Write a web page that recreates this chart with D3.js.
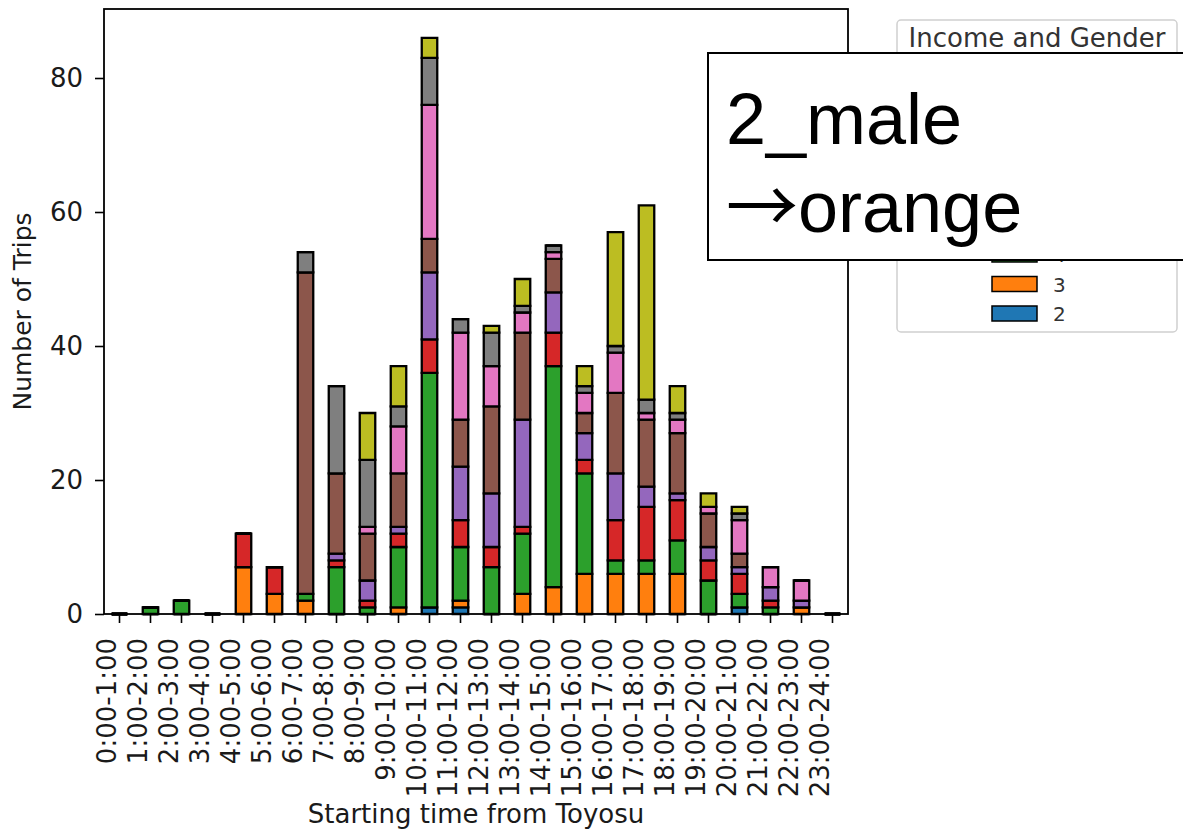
<!DOCTYPE html>
<html>
<head>
<meta charset="utf-8">
<script src="https://cdn.jsdelivr.net/npm/d3@7"></script>
<style>
  body { margin: 0; background: #fff; }
  svg { display: block; }
</style>
</head>
<body>
<div id="chart"></div>
<script>
// time slots on the x axis
var slots = ['0:00-1:00', '1:00-2:00', '2:00-3:00', '3:00-4:00', '4:00-5:00', '5:00-6:00',
  '6:00-7:00', '7:00-8:00', '8:00-9:00', '9:00-10:00', '10:00-11:00', '11:00-12:00',
  '12:00-13:00', '13:00-14:00', '14:00-15:00', '15:00-16:00', '16:00-17:00', '17:00-18:00',
  '18:00-19:00', '19:00-20:00', '20:00-21:00', '21:00-22:00', '22:00-23:00', '23:00-24:00']

// trips per income/gender group (bottom of the stack first)
var g2  = [0, 0, 0, 0, 0, 0, 0, 0, 0, 0, 1, 1, 0, 0, 0, 0, 0, 0, 0, 0, 1, 0, 0, 0]
var g3  = [0, 0, 0, 0, 7, 3, 2, 0, 0, 1, 0, 1, 0, 3, 4, 6, 6, 6, 6, 0, 0, 0, 1, 0]
var g4  = [0, 1, 2, 0, 0, 0, 1, 7, 1, 9, 35, 8, 7, 9, 33, 15, 2, 2, 5, 5, 2, 1, 0, 0]
var g5  = [0, 0, 0, 0, 5, 4, 0, 1, 1, 2, 5, 4, 3, 1, 5, 2, 6, 8, 6, 3, 3, 1, 0, 0]
var g6  = [0, 0, 0, 0, 0, 0, 0, 1, 3, 1, 10, 8, 8, 16, 6, 4, 7, 3, 1, 2, 1, 2, 1, 0]
var g7  = [0, 0, 0, 0, 0, 0, 48, 12, 7, 8, 5, 7, 13, 13, 5, 3, 12, 10, 9, 5, 2, 0, 0, 0]
var g8  = [0, 0, 0, 0, 0, 0, 0, 0, 1, 7, 20, 13, 6, 3, 1, 3, 6, 1, 2, 1, 5, 3, 3, 0]
var g9  = [0, 0, 0, 0, 0, 0, 3, 13, 10, 3, 7, 2, 5, 1, 1, 1, 1, 2, 1, 0, 1, 0, 0, 0]
var g10 = [0, 0, 0, 0, 0, 0, 0, 0, 7, 6, 3, 0, 1, 4, 0, 3, 17, 29, 4, 2, 1, 0, 0, 0]

var groupNames = ['2', '3', '4', '5', '6', '7', '8', '9', '10']
var groupValues = [g2, g3, g4, g5, g6, g7, g8, g9, g10]
var colours = ['#1f77b4', '#ff7f0e', '#2ca02c', '#d62728', '#9467bd',
  '#8c564b', '#e377c2', '#7f7f7f', '#bcbd22']

var yTicks = [0, 20, 40, 60, 80]

var width_all = 1183, height_all = 831
var margin = { top: 9, left: 104 }
var width = 744, height = 605

var svg = d3.select('#chart').append('svg')
  .attr('width', width_all)
  .attr('height', height_all)
  .style('font-family', 'DejaVu Sans, sans-serif')

var g = svg.append('g')
  .attr('transform', 'translate(' + margin.left + ',' + margin.top + ')')

// rows for d3.stack
var table = slots.map(function (s, i) {
  var row = { slot: s }
  groupNames.forEach(function (k, j) { row[k] = groupValues[j][i] })
  return row
})
var stacked = d3.stack().keys(groupNames)(table)

var x = d3.scaleBand().domain(slots).range([0, width])
  .paddingInner(0.5).paddingOuter(0.25)
var y = d3.scaleLinear().domain([0, 90.3]).range([height, 0])
var col = d3.scaleOrdinal().domain(groupNames).range(colours)

// bars: drawn as paths so zero-height pieces still show as a line
stacked.forEach(function (layer) {
  g.append('g')
    .selectAll('path')
    .data(layer)
    .enter()
    .append('path')
    .attr('d', function (d) {
      var x0 = x(d.data.slot), w = x.bandwidth()
      var yTop = y(d[1]), yBot = y(d[0])
      return 'M' + x0 + ',' + yBot + 'H' + (x0 + w) + 'V' + yTop + 'H' + x0 + 'Z'
    })
    .attr('fill', col(layer.key))
    .attr('stroke', '#000')
    .attr('stroke-width', 2.3)
})

// frame
g.append('rect')
  .attr('width', width).attr('height', height)
  .attr('fill', 'none').attr('stroke', '#000').attr('stroke-width', 1.8)

// y axis
var yAxis = g.append('g')
  .call(d3.axisLeft(y).tickValues(yTicks).tickSize(9).tickPadding(12))
yAxis.select('.domain').remove()
yAxis.selectAll('line').attr('stroke', '#000').attr('stroke-width', 1.6)
yAxis.selectAll('text')
  .attr('fill', '#1a1a1a')
  .style('font-size', '26px')
  .style('font-family', 'DejaVu Sans, sans-serif')

// x axis
var xAxis = g.append('g')
  .attr('transform', 'translate(0,' + height + ')')
  .call(d3.axisBottom(x).tickSize(9))
xAxis.select('.domain').remove()
xAxis.selectAll('line').attr('stroke', '#000').attr('stroke-width', 1.6)
xAxis.selectAll('text')
  .attr('fill', '#1a1a1a')
  .style('font-size', '26px')
  .style('font-family', 'DejaVu Sans, sans-serif')
  .attr('x', 0)
  .attr('y', 0)
  .attr('dy', 0)
  .attr('text-anchor', 'end')
  .attr('transform', 'translate(-4,24) rotate(-90)')

// axis titles
svg.append('text')
  .attr('x', margin.left + width / 2)
  .attr('y', 823)
  .attr('text-anchor', 'middle')
  .attr('fill', '#1a1a1a')
  .style('font-size', '26px')
  .text('Starting time from Toyosu')

svg.append('text')
  .attr('transform', 'translate(31,' + (margin.top + height / 2) + ') rotate(-90)')
  .attr('text-anchor', 'middle')
  .attr('fill', '#1a1a1a')
  .style('font-size', '25px')
  .text('Number of Trips')

// legend (reversed: "2" at the bottom)
var legend = svg.append('g')
legend.append('rect')
  .attr('x', 897).attr('y', 20)
  .attr('width', 280).attr('height', 312)
  .attr('rx', 4)
  .attr('fill', '#fff')
  .attr('stroke', '#d0d0d0')
  .attr('stroke-width', 1.5)
legend.append('text')
  .attr('x', 1037).attr('y', 47)
  .attr('text-anchor', 'middle')
  .attr('fill', '#333')
  .style('font-size', '26px')
  .text('Income and Gender')

var entry = legend.selectAll('.entry')
  .data(groupNames)
  .enter()
  .append('g')
  .attr('class', 'entry')
  .attr('transform', function (d, i) { return 'translate(992,' + (306 - i * 29.5) + ')' })
entry.append('rect')
  .attr('y', 0)
  .attr('width', 45).attr('height', 15)
  .attr('fill', function (d) { return col(d) })
  .attr('stroke', '#000')
  .attr('stroke-width', 1.5)
entry.append('text')
  .attr('x', 61).attr('y', 8)
  .attr('dy', '0.36em')
  .attr('fill', '#333')
  .style('font-size', '20px')
  .text(function (d) { return d })

// note box laid over the legend
var note = svg.append('g')
note.append('rect')
  .attr('x', 708).attr('y', 53)
  .attr('width', 520).attr('height', 207)
  .attr('fill', '#fff')
  .attr('stroke', '#000')
  .attr('stroke-width', 2)
note.append('text')
  .attr('x', 726).attr('y', 144)
  .style('font-family', 'Liberation Sans, Arial, sans-serif')
  .style('font-size', '72px')
  .attr('fill', '#000')
  .text('2_male')
var line2 = note.append('text')
  .attr('x', 726).attr('y', 232)
  .style('font-family', 'Liberation Sans, Arial, sans-serif')
  .style('font-size', '72px')
  .attr('fill', '#000')
line2.append('tspan')
  .style('font-family', 'Noto Sans CJK JP, sans-serif')
  .text('\u2192')
line2.append('tspan')
  .text('orange')
</script>
</body>
</html>
